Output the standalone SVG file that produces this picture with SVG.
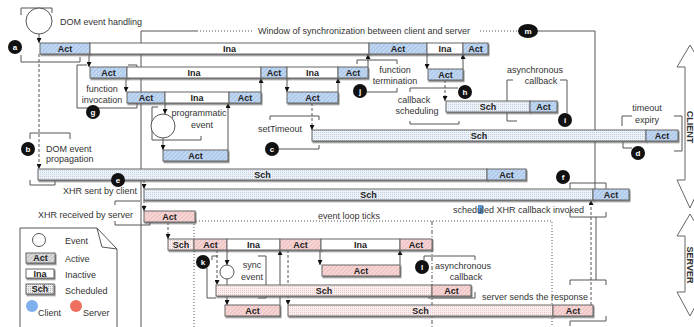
<svg xmlns="http://www.w3.org/2000/svg" width="694" height="327" viewBox="0 0 694 327">
<defs>
  <pattern id="hb" patternUnits="userSpaceOnUse" width="3" height="3" patternTransform="rotate(45)">
    <rect width="3" height="3" fill="#c2d8f2"/><line x1="0" y1="0" x2="0" y2="3" stroke="#89addb" stroke-width="1"/>
  </pattern>
  <pattern id="db" patternUnits="userSpaceOnUse" width="2" height="2">
    <rect width="2" height="2" fill="#edf2f9"/><rect width="1" height="1" fill="#c3d0e0"/>
  </pattern>
  <pattern id="hr" patternUnits="userSpaceOnUse" width="3" height="3" patternTransform="rotate(45)">
    <rect width="3" height="3" fill="#f7d6d6"/><line x1="0" y1="0" x2="0" y2="3" stroke="#e2a4a4" stroke-width="1"/>
  </pattern>
  <pattern id="dr" patternUnits="userSpaceOnUse" width="2" height="2">
    <rect width="2" height="2" fill="#fcefef"/><rect width="1" height="1" fill="#eac8c8"/>
  </pattern>
  <pattern id="hg" patternUnits="userSpaceOnUse" width="3" height="3" patternTransform="rotate(45)">
    <rect width="3" height="3" fill="#dcdcdc"/><line x1="0" y1="0" x2="0" y2="3" stroke="#a0a0a0" stroke-width="1"/>
  </pattern>
  <pattern id="dg" patternUnits="userSpaceOnUse" width="2" height="2">
    <rect width="2" height="2" fill="#eeeeee"/><rect width="1" height="1" fill="#b0b0b0"/>
  </pattern>
  <filter id="sh" x="-5%" y="-20%" width="110%" height="160%">
    <feDropShadow dx="1" dy="1.5" stdDeviation="0.6" flood-color="#666" flood-opacity="0.8"/>
  </filter>
  <marker id="ah" viewBox="0 0 6 6" refX="6" refY="3" markerWidth="5" markerHeight="5" markerUnits="userSpaceOnUse" orient="auto">
    <path d="M0,0 L6,3 L0,6 z" fill="#111"/>
  </marker>
  <style>
    .bar{stroke:#666;stroke-width:1;filter:url(#sh)}
    .ca{fill:url(#hb)} .cs{fill:url(#db)} .in{fill:#fff}
    .sa{fill:url(#hr)} .ss{fill:url(#dr)}
    .ga{fill:url(#hg)} .gs{fill:url(#dg)}
    .bl{font:bold 9px "Liberation Sans",Arial,sans-serif;text-anchor:middle;fill:#222}
    .lb{font:9px "Liberation Sans",Arial,sans-serif;fill:#333}
    .mid{text-anchor:middle} .end{text-anchor:end}
    .ln{fill:none;stroke:#555;stroke-width:1}
    .dl{stroke-dasharray:3 2} .dt{stroke-dasharray:1 2} .dd{stroke-dasharray:4 2 1 2}
    .ar{marker-end:url(#ah)}
    .ev{fill:#fff;stroke:#555;stroke-width:1}
    .bd{fill:#111}
    .bt{font:bold 8px "Liberation Sans",Arial,sans-serif;fill:#fff;text-anchor:middle}
    .side{fill:#fff;stroke:#666;stroke-width:1}
    .st{font:bold 9px "Liberation Sans",Arial,sans-serif;fill:#333;text-anchor:middle}
  </style>
</defs>

<rect width="694" height="327" fill="#fff"/>

<g id="connectors">
  <!-- span brackets -->
  <path class="ln" d="M21,15 V8 H52 V13 M21,55 V62 H80 V57"/>
  <path class="ln" d="M30,139 V133 H70 V139 M30,180 V185 H55 V181"/>
  <path class="ln" d="M77,108 V65 H87 M128,65 H137 V71 M77,108 H137 V103"/>
  <path class="ln" d="M152,107 H158 M152,107 V140 H201 V136"/>
  <path class="ln" d="M270,120 V116 H319 V120 M279,149 H319 V145"/>
  <path class="ln" d="M357,64 V60 H397 V64 M367,92 H397 V88"/>
  <path class="ln" d="M410,92 V88 H458 M410,121 V124 H459 V121"/>
  <path class="ln" d="M513,80 H507 V121 H517 M560,80 H567 V113"/>
  <path class="ln" d="M632,116 H622 V126 M674,116 H682 V151 H674 M623,142 V148 H632"/>
  <path class="ln" d="M115,205 V201 H140"/>
  <path class="ln" d="M115,221 V225 H150 V221"/>
  <path class="ln" d="M570,190 V183 H606 V190"/>
  <path class="ln" d="M258,256 H266 V298 H258 M212,260 V256 H218 M207,268 V298 H216"/>
  <path class="ln" d="M424,260 V256 H475 V260 M428,298 H475 V292"/>
  <path class="ln" d="M570,212 V217 H606 V212 M596,217 V280 M570,285 V280 H606 V285 M570,326 V321 H606 V316"/>
  <!-- synchronization window -->
  <path class="ln" d="M141,327 V31 H197"/>
  <path class="ln dt" d="M197,31 H253 M480,31 H518"/>
  <path class="ln" d="M538,31 H595 V189"/>
  <!-- event loop ticks -->
  <path class="ln dt" d="M194,327 V221 H552 V327"/>
  <path class="ln dd" d="M432,221 V327"/>
  <!-- flow arrows -->
  <path class="ln ar" d="M39,34 V43"/>
  <path class="ln ar" d="M89,54 V67"/>
  <path class="ln ar" d="M126,78 V92"/>
  <path class="ln ar" d="M165,103 V114"/>
  <path class="ln ar" d="M163,138 V150"/>
  <path class="ln ar" d="M228,150 V103"/>
  <path class="ln ar" d="M261,92 V78"/>
  <path class="ln ar" d="M287,78 V92"/>
  <path class="ln ar" d="M338,92 V78"/>
  <path class="ln ar" d="M368,67 V54"/>
  <path class="ln ar" d="M427,54 V69"/>
  <path class="ln ar" d="M463,69 V54"/>
  <path class="ln ar" d="M227,250 V265"/>
  <path class="ln ar" d="M227,279 V305"/>
  <path class="ln ar" d="M280,305 V250"/>
  <path class="ln ar" d="M320,250 V265"/>
  <path class="ln ar" d="M400,265 V250"/>
  <path class="ln dl ar" d="M39,54 V169"/>
  <path class="ln dl ar" d="M445,80 V101"/>
  <path class="ln dl ar" d="M312,103 V130"/>
  <path class="ln dl ar" d="M144,180 V189"/>
  <path class="ln dl ar" d="M144,200 V211"/>
  <path class="ln dl ar" d="M168,222 V239"/>
  <path class="ln dl ar" d="M217,250 V285"/>
  <path class="ln dl ar" d="M288,250 V305"/>
  <path class="ln dl ar" d="M591,305 V200"/>
</g>

<!-- client: event circles -->
<g id="dom-event"><circle class="ev" cx="39" cy="21" r="13"/></g>
<g id="prog-event"><circle class="ev" cx="163" cy="126" r="12"/></g>

<!-- client row 1 -->
<g id="c1-act1"><rect class="bar ca" x="40" y="43" width="50" height="11"/><text class="bl" x="65" y="51.5">Act</text></g>
<g id="c1-ina1"><rect class="bar in" x="90" y="43" width="279" height="11"/><text class="bl" x="229.5" y="51.5">Ina</text></g>
<g id="c1-act2"><rect class="bar ca" x="369" y="43" width="58" height="11"/><text class="bl" x="398" y="51.5">Act</text></g>
<g id="c1-ina2"><rect class="bar in" x="427" y="43" width="36" height="11"/><text class="bl" x="445" y="51.5">Ina</text></g>
<g id="c1-act3"><rect class="bar ca" x="463" y="43" width="25" height="11"/><text class="bl" x="475.5" y="51.5">Act</text></g>

<!-- client row 2 -->
<g id="c2-act1"><rect class="bar ca" x="90" y="67" width="37" height="11"/><text class="bl" x="108.5" y="75.5">Act</text></g>
<g id="c2-ina1"><rect class="bar in" x="127" y="67" width="134" height="11"/><text class="bl" x="194" y="75.5">Ina</text></g>
<g id="c2-act2"><rect class="bar ca" x="261" y="67" width="26" height="11"/><text class="bl" x="274" y="75.5">Act</text></g>
<g id="c2-ina2"><rect class="bar in" x="287" y="67" width="51" height="11"/><text class="bl" x="312.5" y="75.5">Ina</text></g>
<g id="c2-act3"><rect class="bar ca" x="338" y="67" width="30" height="11"/><text class="bl" x="353" y="75.5">Act</text></g>
<g id="c2-act4"><rect class="bar ca" x="428" y="69" width="35" height="11"/><text class="bl" x="445.5" y="77.5">Act</text></g>

<!-- client row 3 -->
<g id="c3-act1"><rect class="bar ca" x="127" y="92" width="38" height="11"/><text class="bl" x="146" y="100.5">Act</text></g>
<g id="c3-ina1"><rect class="bar in" x="165" y="92" width="64" height="11"/><text class="bl" x="197" y="100.5">Ina</text></g>
<g id="c3-act2"><rect class="bar ca" x="229" y="92" width="32" height="11"/><text class="bl" x="245" y="100.5">Act</text></g>
<g id="c3-act3"><rect class="bar ca" x="287" y="92" width="51" height="11"/><text class="bl" x="312.5" y="100.5">Act</text></g>

<!-- client scheduled work -->
<g id="cb-sch"><rect class="bar cs" x="446" y="101" width="84" height="11"/><text class="bl" x="488" y="109.5">Sch</text></g>
<g id="cb-act"><rect class="bar ca" x="530" y="101" width="27" height="11"/><text class="bl" x="543.5" y="109.5">Act</text></g>
<g id="to-sch"><rect class="bar cs" x="312" y="130" width="334" height="11"/><text class="bl" x="479" y="138.5">Sch</text></g>
<g id="to-act"><rect class="bar ca" x="646" y="130" width="32" height="11"/><text class="bl" x="662" y="138.5">Act</text></g>
<g id="prog-act"><rect class="bar ca" x="163" y="150" width="65" height="11"/><text class="bl" x="195.5" y="158.5">Act</text></g>
<g id="prop-sch"><rect class="bar cs" x="38" y="169" width="449" height="11"/><text class="bl" x="262.5" y="177.5">Sch</text></g>
<g id="prop-act"><rect class="bar ca" x="487" y="169" width="39" height="11"/><text class="bl" x="506.5" y="177.5">Act</text></g>
<g id="xhr-sch"><rect class="bar cs" x="144" y="189" width="449" height="11"/><text class="bl" x="368.5" y="197.5">Sch</text></g>
<g id="xhr-act"><rect class="bar ca" x="593" y="189" width="36" height="11"/><text class="bl" x="611" y="197.5">Act</text></g>

<!-- server -->
<g id="sync-event"><circle class="ev" cx="227" cy="272" r="7"/></g>
<g id="s0-act"><rect class="bar sa" x="144" y="211" width="51" height="11"/><text class="bl" x="169.5" y="219.5">Act</text></g>
<g id="s1-sch"><rect class="bar ss" x="168" y="239" width="26" height="11"/><text class="bl" x="181" y="247.5">Sch</text></g>
<g id="s1-act1"><rect class="bar sa" x="194" y="239" width="33" height="11"/><text class="bl" x="210.5" y="247.5">Act</text></g>
<g id="s1-ina1"><rect class="bar in" x="227" y="239" width="53" height="11"/><text class="bl" x="253.5" y="247.5">Ina</text></g>
<g id="s1-act2"><rect class="bar sa" x="280" y="239" width="41" height="11"/><text class="bl" x="300.5" y="247.5">Act</text></g>
<g id="s1-ina2"><rect class="bar in" x="321" y="239" width="79" height="11"/><text class="bl" x="360.5" y="247.5">Ina</text></g>
<g id="s1-act3"><rect class="bar sa" x="400" y="239" width="32" height="11"/><text class="bl" x="416" y="247.5">Act</text></g>
<g id="s2-act"><rect class="bar sa" x="322" y="265" width="78" height="11"/><text class="bl" x="361" y="273.5">Act</text></g>
<g id="s3-sch"><rect class="bar ss" x="216" y="285" width="216" height="11"/><text class="bl" x="324" y="293.5">Sch</text></g>
<g id="s3-act"><rect class="bar sa" x="432" y="285" width="39" height="11"/><text class="bl" x="451.5" y="293.5">Act</text></g>
<g id="s4-act1"><rect class="bar sa" x="225" y="305" width="55" height="11"/><text class="bl" x="252.5" y="313.5">Act</text></g>
<g id="s4-sch"><rect class="bar ss" x="288" y="305" width="265" height="11"/><text class="bl" x="420.5" y="313.5">Sch</text></g>
<g id="s4-act2"><rect class="bar sa" x="553" y="305" width="40" height="11"/><text class="bl" x="573" y="313.5">Act</text></g>

<!-- labels -->
<g id="labels">
  <text class="lb" x="60" y="25">DOM event handling</text>
  <text class="lb" x="258" y="34">Window of synchronization between client and server</text>
  <text class="lb mid" x="102" y="92">function</text>
  <text class="lb mid" x="102" y="103">invocation</text>
  <text class="lb mid" x="199" y="116">programmatic</text>
  <text class="lb mid" x="202" y="128">event</text>
  <text class="lb mid" x="280" y="132">setTimeout</text>
  <text class="lb mid" x="395" y="73">function</text>
  <text class="lb mid" x="395" y="84">termination</text>
  <text class="lb mid" x="414" y="103">callback</text>
  <text class="lb mid" x="417" y="114">scheduling</text>
  <text class="lb mid" x="535" y="73">asynchronous</text>
  <text class="lb mid" x="541" y="84">callback</text>
  <text class="lb mid" x="647" y="111">timeout</text>
  <text class="lb mid" x="647" y="123">expiry</text>
  <text class="lb" x="46" y="152">DOM event</text>
  <text class="lb" x="46" y="162">propagation</text>
  <text class="lb end" x="137" y="194">XHR sent by client</text>
  <text class="lb end" x="133" y="218">XHR received by server</text>
  <rect x="478" y="205" width="5" height="9" fill="#5b95db"/>
  <text class="lb" x="453" y="213">scheduled XHR callback invoked</text>
  <text class="lb" x="318" y="219">event loop ticks</text>
  <text class="lb mid" x="252" y="268">sync</text>
  <text class="lb mid" x="252" y="280">event</text>
  <text class="lb mid" x="463" y="269">asynchronous</text>
  <text class="lb mid" x="466" y="280">callback</text>
  <text class="lb" x="482" y="300">server sends the response</text>
</g>

<!-- numbered markers -->
<g id="badge-a"><circle class="bd" cx="15" cy="47" r="7"/><text class="bt" x="15" y="50">a</text></g>
<g id="badge-b"><circle class="bd" cx="28" cy="149" r="7"/><text class="bt" x="28" y="152">b</text></g>
<g id="badge-c"><circle class="bd" cx="272" cy="149" r="7"/><text class="bt" x="272" y="152">c</text></g>
<g id="badge-d"><circle class="bd" cx="638" cy="153" r="7"/><text class="bt" x="638" y="156">d</text></g>
<g id="badge-e"><circle class="bd" cx="118" cy="180" r="7"/><text class="bt" x="118" y="183">e</text></g>
<g id="badge-f"><circle class="bd" cx="563" cy="177" r="7"/><text class="bt" x="563" y="180">f</text></g>
<g id="badge-g"><circle class="bd" cx="93" cy="112" r="7"/><text class="bt" x="93" y="115">g</text></g>
<g id="badge-h"><circle class="bd" cx="465" cy="92" r="7"/><text class="bt" x="465" y="95">h</text></g>
<g id="badge-i"><circle class="bd" cx="565" cy="120" r="7"/><text class="bt" x="565" y="123">i</text></g>
<g id="badge-j"><circle class="bd" cx="360" cy="91" r="7"/><text class="bt" x="360" y="94">j</text></g>
<g id="badge-k"><circle class="bd" cx="203" cy="262" r="7"/><text class="bt" x="203" y="265">k</text></g>
<g id="badge-l"><circle class="bd" cx="422" cy="267" r="7"/><text class="bt" x="422" y="270">l</text></g>
<g id="badge-m"><ellipse class="bd" cx="528" cy="31" rx="10" ry="7"/><text class="bt" x="528" y="34">m</text></g>

<!-- side arrows -->
<g id="client-axis">
  <polygon class="side" points="690,45 703,67 695,67 695,180 703,180 690,208 677,180 685,180 685,67 677,67"/>
  <text class="st" transform="translate(690,127) rotate(90)" y="3">CLIENT</text>
</g>
<g id="server-axis">
  <polygon class="side" points="690,214 703,236 695,236 695,292 703,292 690,316 677,292 685,292 685,236 677,236"/>
  <text class="st" transform="translate(690,265) rotate(90)" y="3">SERVER</text>
</g>

<!-- legend -->
<g id="legend">
  <path d="M20,228 H97 L117,249 V330 H20 Z" fill="#fff" stroke="#555" stroke-width="1"/>
  <path d="M97,228 Q100,240 102,247 L117,249" fill="none" stroke="#555" stroke-width="1"/>
  <circle class="ev" cx="39" cy="240" r="6.5"/>
  <text class="lb" x="65" y="244">Event</text>
  <rect class="bar ga" x="26" y="253" width="29" height="10"/><text class="bl" x="40.5" y="261">Act</text>
  <text class="lb" x="65" y="262">Active</text>
  <rect class="bar in" x="26" y="269" width="28" height="9"/><text class="bl" x="40" y="277">Ina</text>
  <text class="lb" x="65" y="278">Inactive</text>
  <rect class="bar gs" x="26" y="284" width="28" height="10"/><text class="bl" x="40" y="292">Sch</text>
  <text class="lb" x="65" y="294">Scheduled</text>
  <circle cx="32" cy="306" r="6" fill="#7fb0ee"/>
  <text class="lb" x="38" y="316">Client</text>
  <circle cx="76" cy="306" r="6" fill="#ef6f5e"/>
  <text class="lb" x="83" y="316">Server</text>
</g>
</svg>
